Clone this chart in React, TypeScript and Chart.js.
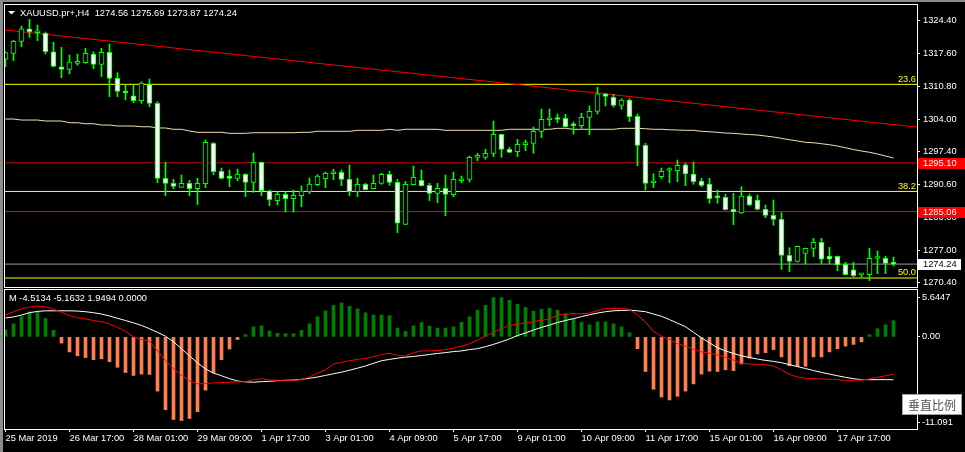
import React, { useEffect, useRef } from 'react';
import { Chart, registerables } from 'chart.js';

Chart.register(...registerables);

// ---------------- data ----------------
const symbolName = 'XAUUSD.pr+';
const timeframe = 'H4';

const opens = [1316.45,1317.68,1320.15,1322.75,1321.93,1321.80,1318.01,1314.92,1314.38,1315.62,
1315.74,1317.54,1315.41,1317.89,1312.53,1309.91,1308.94,1307.91,1311.35,1307.38,
1291.92,1290.89,1290.06,1290.89,1289.78,1290.81,1299.13,1293.36,1292.39,1291.92,
1292.74,1291.09,1295.22,1289.36,1287.30,1288.62,1287.71,1288.33,1289.16,1290.60,
1291.83,1292.87,1293.15,1291.71,1289.16,1290.68,1289.78,1290.89,1292.74,1291.09,
1282.44,1290.60,1291.51,1290.47,1288.83,1289.86,1288.54,1291.42,1291.71,1296.25,
1296.25,1297.07,1300.99,1297.90,1297.40,1298.85,1299.13,1301.61,1303.99,1304.08,
1304.29,1302.80,1302.76,1304.49,1305.73,1309.35,1308.61,1306.96,1308.06,1304.70,
1298.72,1291.01,1292.25,1293.53,1293.49,1294.72,1292.80,1291.36,1290.74,1287.96,
1288.00,1285.53,1284.77,1288.27,1287.45,1285.53,1284.29,1283.47,1276.05,1274.81,
1276.46,1277.49,1278.73,1275.90,1275.84,1274.19,1273.08,1272.01,1272.05,1275.39,
1275.43,1274.56];

const highs = [1318.01,1320.32,1323.31,1324.69,1323.51,1322.07,1319.95,1318.92,1317.33,1317.54,
1318.71,1318.01,1318.71,1319.60,1313.68,1311.15,1311.15,1311.83,1312.39,1307.71,
1295.22,1291.71,1292.60,1291.51,1291.92,1299.81,1299.30,1294.04,1293.63,1293.84,
1292.91,1297.13,1295.28,1289.51,1289.16,1289.16,1289.51,1290.33,1291.98,1292.66,
1293.22,1293.77,1293.63,1294.66,1291.92,1290.89,1292.60,1292.95,1293.36,1291.71,
1291.30,1294.45,1293.63,1290.89,1290.89,1292.60,1293.22,1292.39,1296.51,1297.07,
1297.90,1303.73,1301.05,1298.31,1299.96,1299.81,1302.49,1306.20,1306.20,1305.17,
1305.11,1303.52,1305.32,1306.82,1310.67,1309.44,1309.23,1308.32,1308.32,1305.17,
1299.13,1292.87,1294.04,1294.10,1295.69,1295.01,1295.28,1291.92,1291.92,1289.51,
1288.62,1288.83,1290.19,1288.68,1288.48,1286.42,1287.45,1284.83,1277.61,1277.96,
1277.55,1279.55,1279.55,1277.70,1275.90,1274.61,1274.61,1272.34,1277.49,1276.94,
1275.84,1275.69];

const lows = [1314.92,1316.16,1319.04,1320.98,1320.28,1317.54,1314.86,1312.65,1313.42,1315.21,
1315.62,1314.51,1312.86,1308.74,1308.74,1308.06,1307.50,1307.38,1306.68,1291.01,
1288.33,1289.78,1290.06,1288.33,1286.48,1289.98,1292.66,1291.77,1290.19,1291.42,
1288.13,1289.03,1288.33,1286.27,1286.48,1284.97,1284.97,1286.07,1288.75,1290.39,
1289.98,1291.63,1290.39,1288.33,1288.13,1289.51,1289.71,1290.68,1290.47,1280.71,
1282.35,1290.54,1290.30,1287.30,1286.89,1284.21,1288.13,1291.01,1291.16,1295.55,
1295.84,1296.37,1296.25,1297.20,1296.37,1297.61,1297.07,1300.29,1302.76,1303.38,
1302.43,1301.05,1302.22,1300.91,1305.17,1306.82,1306.61,1306.14,1303.58,1294.51,
1289.51,1289.98,1291.83,1291.01,1291.22,1290.39,1290.68,1290.19,1286.77,1286.77,
1285.38,1282.36,1284.66,1286.27,1285.38,1283.80,1282.23,1273.16,1272.67,1274.67,
1274.26,1275.76,1274.26,1274.26,1272.88,1271.99,1271.64,1271.64,1270.81,1272.26,
1272.26,1273.87];

const closes = [1317.81,1320.15,1322.75,1322.07,1322.07,1318.01,1315.00,1314.38,1315.89,1315.89,
1317.68,1315.41,1317.89,1312.53,1309.85,1309.50,1307.91,1311.56,1307.38,1291.92,
1290.89,1290.27,1290.89,1289.78,1290.89,1299.34,1293.28,1291.92,1291.92,1292.80,
1291.09,1295.22,1289.36,1287.51,1288.62,1287.71,1288.41,1289.30,1290.74,1292.39,
1292.95,1293.22,1291.71,1289.16,1290.68,1289.57,1290.89,1292.74,1291.09,1282.65,
1290.68,1292.12,1290.39,1288.83,1289.86,1288.62,1291.71,1291.77,1296.25,1296.51,
1297.07,1300.99,1297.90,1297.28,1298.93,1299.13,1301.61,1304.08,1304.08,1304.04,
1302.55,1302.76,1304.49,1305.73,1309.35,1308.82,1306.96,1308.06,1304.61,1298.72,
1290.89,1291.05,1293.36,1293.57,1294.60,1292.80,1291.22,1290.47,1287.71,1287.92,
1285.45,1284.97,1288.27,1286.42,1285.53,1284.29,1283.47,1276.05,1274.81,1277.90,
1277.49,1278.73,1275.23,1275.23,1274.05,1272.05,1271.85,1272.09,1275.43,1275.43,
1274.40,1274.24];

const maValues = [1304.14,1304.14,1303.93,1303.93,1303.93,1303.73,1303.73,1303.73,1303.38,1303.38,
1303.17,1303.17,1302.90,1302.90,1302.70,1302.70,1302.70,1302.55,1302.55,1302.29,
1302.29,1302.02,1302.02,1301.67,1301.40,1301.40,1301.40,1301.40,1301.19,1301.19,
1301.19,1301.32,1301.32,1301.32,1301.32,1301.32,1301.32,1301.40,1301.40,1301.61,
1301.61,1301.61,1301.61,1301.61,1301.81,1301.81,1301.81,1301.81,1302.02,1301.81,
1302.02,1302.02,1302.02,1302.02,1302.02,1301.81,1301.81,1301.81,1301.81,1301.81,
1301.81,1301.81,1301.81,1302.02,1302.02,1302.02,1302.02,1302.02,1302.02,1302.22,
1302.22,1302.02,1302.02,1302.02,1302.02,1302.02,1302.02,1302.22,1302.22,1302.22,
1302.14,1302.02,1302.02,1301.93,1301.87,1301.81,1301.81,1301.61,1301.52,1301.40,
1301.25,1301.19,1301.05,1300.94,1300.84,1300.64,1300.43,1300.16,1299.87,1299.61,
1299.34,1299.25,1299.05,1298.84,1298.57,1298.22,1297.85,1297.55,1297.28,1296.93,
1296.52,1296.10];

const trendX = [-1, 115];
const trendY = [1322.65, 1302.29];
const levelSpanX = [-1, 115];
const fibLevels = [1311.29, 1289.21, 1271.37];
const fibLabels = ['23.6', '38.2', '50.0'];
const redLevels = [1295.10, 1285.06];
const bidPrice = 1274.24;
const priceMin = 1269.52;
const priceMax = 1327.64;
const priceTicks = [1324.40, 1317.60, 1310.80, 1304.00, 1297.40, 1290.60, 1283.80, 1277.00, 1270.40];

const histValues = [0.86,1.57,2.43,3.02,3.02,2.20,0.78,-0.75,-1.81,-2.28,
-2.48,-2.75,-2.64,-2.99,-3.66,-4.29,-4.64,-4.48,-4.52,-6.53,
-8.77,-9.95,-10.07,-9.83,-9.01,-6.41,-4.33,-2.75,-1.46,-0.32,
0.27,1.21,1.33,0.71,0.43,0.39,0.39,0.78,1.57,2.43,
3.14,3.81,4.08,3.69,3.37,2.90,2.63,2.63,2.55,1.06,
0.66,1.33,1.73,1.30,1.06,1.06,1.21,1.77,2.43,3.22,
3.81,4.72,4.72,4.40,3.93,3.54,3.10,3.34,3.46,3.22,
2.75,2.20,1.77,1.45,1.80,1.80,1.57,1.21,0.51,-1.42,
-4.17,-6.30,-7.24,-7.59,-7.16,-6.53,-5.66,-4.48,-4.13,-4.17,
-3.97,-4.06,-3.27,-2.56,-2.05,-1.89,-1.53,-2.41,-3.47,-3.58,
-3.54,-2.41,-2.41,-1.81,-1.42,-1.11,-0.91,-0.59,0.27,0.98,
1.45,1.9494];

const macdRed = [2.63,3.03,3.38,3.58,3.70,3.62,3.34,2.95,2.56,2.32,
2.16,1.97,1.81,1.57,1.14,0.67,0.00,-0.31,-0.51,-1.69,
-2.87,-3.85,-4.64,-5.31,-5.66,-5.62,-5.54,-5.50,-5.46,-5.42,
-5.39,-5.15,-5.03,-5.19,-5.23,-5.23,-5.23,-5.15,-4.83,-4.36,
-3.97,-3.26,-3.07,-2.87,-2.71,-2.59,-2.40,-2.12,-1.97,-2.24,
-2.28,-1.89,-1.69,-1.69,-1.65,-1.53,-1.34,-1.10,-0.83,-0.39,
0.08,0.55,0.98,1.38,1.53,1.65,1.85,2.00,2.16,2.63,
2.75,2.79,2.79,2.87,3.18,3.42,3.42,3.42,3.30,2.63,
1.77,0.67,0.08,-0.31,-0.83,-1.10,-1.49,-1.81,-1.97,-2.16,
-2.48,-2.79,-3.18,-3.26,-3.30,-3.34,-3.50,-3.97,-4.52,-4.83,
-4.99,-5.03,-5.07,-5.11,-5.15,-5.23,-5.23,-5.19,-5.07,-4.87,
-4.68,-4.5134];

const macdWhite = [2.28,2.40,2.63,2.91,3.07,3.14,3.14,3.14,3.14,3.11,
3.03,2.91,2.75,2.52,2.24,1.97,1.69,1.38,0.98,0.55,
0.08,-0.59,-1.42,-2.28,-3.14,-3.85,-4.36,-4.68,-5.03,-5.31,
-5.42,-5.46,-5.39,-5.35,-5.27,-5.23,-5.19,-5.11,-4.99,-4.83,
-4.64,-4.44,-4.25,-4.01,-3.77,-3.50,-3.18,-2.87,-2.71,-2.56,
-2.44,-2.36,-2.24,-2.12,-2.00,-1.89,-1.77,-1.69,-1.53,-1.42,
-1.18,-0.90,-0.59,-0.24,0.16,0.47,0.83,1.14,1.42,1.73,
1.97,2.20,2.44,2.67,2.87,3.03,3.14,3.18,3.22,3.14,
3.03,2.75,2.48,2.08,1.65,1.22,0.55,-0.12,-0.71,-1.30,
-1.69,-2.00,-2.28,-2.48,-2.67,-2.83,-2.95,-3.11,-3.34,-3.58,
-3.81,-4.05,-4.28,-4.48,-4.68,-4.87,-5.03,-5.15,-5.15,-5.15,
-5.15,-5.1632];

const macdMax = 5.6447;
const macdMin = -11.091;
const macdSignalLevel = 0.0;

const xTickIndex = [0, 8, 16, 24, 32, 40, 48, 56, 64, 72, 80, 88, 96, 104];
const xTickLabels = ['25 Mar 2019', '26 Mar 17:00', '28 Mar 01:00', '29 Mar 09:00', '1 Apr 17:00',
  '3 Apr 01:00', '4 Apr 09:00', '5 Apr 17:00', '9 Apr 01:00', '10 Apr 09:00', '11 Apr 17:00',
  '15 Apr 01:00', '16 Apr 09:00', '17 Apr 17:00'];

const scaleButtonText = '垂直比例';

// ---------------- styling ----------------
const FONT_FAMILY = '"Liberation Sans", Arial, sans-serif';
const FONT_SIZE = 9.3;
const TEXT_FONT = `${FONT_SIZE}px ${FONT_FAMILY}`;
const X_MIN = -0.0625;
const X_MAX = 113.9375;
const AXIS_WIDTH = 48;

const barIndex = opens.map((_, i) => i);
const last = opens.length - 1;

const xScaleHidden = {
  type: 'linear', min: X_MIN, max: X_MAX, offset: false, display: false,
};

function fixWidth(s: any) {
  s.width = AXIS_WIDTH;
  s.paddingTop = 0;
  s.paddingBottom = 0;
  s.paddingLeft = 0;
  s.paddingRight = 0;
}

const mainDecor = {
  id: 'mainDecor',
  beforeDraw(chart: any) {
    const { ctx, width, height } = chart;
    ctx.save();
    ctx.fillStyle = '#000000';
    ctx.fillRect(0, 0, width, height);
    ctx.fillStyle = '#8c8c8c';
    ctx.fillRect(0, 0, width, 2);
    ctx.fillRect(0, 0, 3, height);
    ctx.restore();
  },
  afterDatasetsDraw(chart: any) {
    const { ctx, chartArea: a, scales } = chart;
    const y = scales.y;
    ctx.save();
    ctx.strokeStyle = '#ffffff';
    ctx.lineWidth = 1;
    ctx.strokeRect(a.left - 0.5, a.top - 0.5, a.right - a.left + 1, a.bottom - a.top + 1);
    ctx.font = TEXT_FONT;
    ctx.fillStyle = '#ffff00';
    ctx.textAlign = 'right';
    ctx.textBaseline = 'bottom';
    fibLevels.forEach((lv, i) => {
      ctx.fillText(fibLabels[i], a.right - 1, y.getPixelForValue(lv) - 0.5);
    });
    // header
    ctx.fillStyle = '#ffffff';
    ctx.beginPath();
    ctx.moveTo(8, 11);
    ctx.lineTo(15, 11);
    ctx.lineTo(11.5, 14.5);
    ctx.closePath();
    ctx.fill();
    ctx.textAlign = 'left';
    ctx.textBaseline = 'middle';
    const header = `${symbolName},${timeframe}  ${opens[last].toFixed(2)} ${highs[last].toFixed(2)} ${lows[last].toFixed(2)} ${closes[last].toFixed(2)}`;
    ctx.fillText(header, 20, 13);
    ctx.restore();
  },
  afterDraw(chart: any) {
    const { ctx, chartArea: a, scales } = chart;
    const y = scales.y;
    ctx.save();
    ctx.font = TEXT_FONT;
    ctx.textAlign = 'left';
    ctx.textBaseline = 'middle';
    redLevels.forEach((v) => {
      const py = Math.round(y.getPixelForValue(v));
      ctx.fillStyle = '#ff0000';
      ctx.fillRect(a.right + 1, py - 5, 47, 11);
      ctx.fillStyle = '#ffffff';
      ctx.fillText(v.toFixed(2), a.right + 6, py + 0.5);
    });
    const pb = Math.round(y.getPixelForValue(bidPrice));
    ctx.fillStyle = '#ffffff';
    ctx.fillRect(a.right + 1, pb - 5, 43, 11);
    ctx.fillStyle = '#000000';
    ctx.fillText(bidPrice.toFixed(2), a.right + 6, pb + 0.5);
    ctx.restore();
  },
};

const macdDecor = {
  id: 'macdDecor',
  beforeDraw(chart: any) {
    const { ctx, width, height } = chart;
    ctx.save();
    ctx.fillStyle = '#000000';
    ctx.fillRect(0, 0, width, height);
    ctx.fillStyle = '#8c8c8c';
    ctx.fillRect(0, 0, 3, height);
    ctx.restore();
  },
  afterDatasetsDraw(chart: any) {
    const { ctx, chartArea: a } = chart;
    ctx.save();
    ctx.strokeStyle = '#ffffff';
    ctx.lineWidth = 1;
    ctx.strokeRect(a.left - 0.5, a.top - 0.5, a.right - a.left + 1, a.bottom - a.top + 1);
    ctx.font = TEXT_FONT;
    ctx.fillStyle = '#ffffff';
    ctx.textAlign = 'left';
    ctx.textBaseline = 'middle';
    const hdr = `M ${macdRed[last].toFixed(4)} ${macdWhite[last].toFixed(4)} ${histValues[last].toFixed(4)} ${macdSignalLevel.toFixed(4)}`;
    ctx.fillText(hdr, 9, 10);
    // extreme scale labels (placed inside the panel like the terminal does)
    const yTop = a.top + 7;
    const yBot = a.bottom - 7;
    ctx.fillText(String(macdMax), a.right + 5, yTop);
    ctx.fillText(String(macdMin), a.right + 5, yBot);
    ctx.fillRect(a.right, Math.round(yTop), 3, 1);
    ctx.fillRect(a.right, Math.round(yBot), 3, 1);
    ctx.restore();
  },
  afterDraw(chart: any) {
    const { ctx, chartArea: a } = chart;
    ctx.save();
    const bx = a.right - 14.5;
    const by = a.bottom - 34.5;
    ctx.fillStyle = '#ffffff';
    ctx.fillRect(bx, by, 59, 20);
    ctx.strokeStyle = '#a0a0a0';
    ctx.lineWidth = 1;
    ctx.strokeRect(bx, by, 59, 20);
    ctx.fillStyle = '#505050';
    ctx.font = '12px "Noto Sans CJK SC", sans-serif';
    ctx.textAlign = 'center';
    ctx.textBaseline = 'middle';
    ctx.fillText(scaleButtonText, bx + 29.5, by + 10.5);
    ctx.restore();
  },
};

function levelDataset(value: number, color: string) {
  return {
    type: 'line',
    data: levelSpanX.map((x) => ({ x, y: value })),
    borderColor: color,
    borderWidth: 1,
    pointRadius: 0,
    order: 5,
  };
}

function mainConfig(): any {
  return {
    type: 'line',
    data: {
      datasets: [
        {
          type: 'bar',
          data: barIndex.map((i) => ({ x: i, y: [opens[i], closes[i]] })),
          backgroundColor: barIndex.map((i) => (closes[i] < opens[i] ? '#ffffff' : '#000000')),
          borderColor: '#00ff00',
          borderWidth: 1,
          borderSkipped: false,
          barThickness: 5,
          minBarLength: 2,
          grouped: false,
          order: 0,
        },
        {
          type: 'bar',
          data: barIndex.map((i) => ({ x: i, y: [lows[i], highs[i]] })),
          backgroundColor: '#00ff00',
          borderWidth: 0,
          barThickness: 1,
          grouped: false,
          order: 1,
        },
        {
          type: 'line',
          data: barIndex.map((i) => ({ x: i, y: maValues[i] })),
          borderColor: '#f5deb3',
          borderWidth: 1,
          pointRadius: 0,
          order: 3,
        },
        {
          type: 'line',
          data: trendX.map((x, i) => ({ x, y: trendY[i] })),
          borderColor: '#ff0000',
          borderWidth: 1,
          pointRadius: 0,
          order: 4,
        },
        ...fibLevels.map((v) => levelDataset(v, '#ffff00')),
        levelDataset(redLevels[0], '#dd0000'),
        levelDataset(redLevels[1], '#ff0000'),
        levelDataset(bidPrice, '#9a9a9a'),
      ],
    },
    options: {
      responsive: false,
      animation: false,
      events: [],
      layout: { padding: { left: 5, top: 5, right: 0, bottom: 2 } },
      plugins: { legend: { display: false }, tooltip: { enabled: false } },
      scales: {
        x: xScaleHidden,
        y: {
          type: 'linear',
          position: 'right',
          min: priceMin,
          max: priceMax,
          bounds: 'data',
          afterFit: fixWidth,
          afterBuildTicks: (s: any) => { s.ticks = priceTicks.map((v) => ({ value: v })); },
          border: { display: false },
          grid: { display: true, drawOnChartArea: false, drawTicks: true, tickLength: 3, color: '#ffffff' },
          ticks: {
            autoSkip: false,
            color: '#ffffff',
            padding: 3,
            font: { family: FONT_FAMILY, size: FONT_SIZE },
            callback: (v: any) => Number(v).toFixed(2),
          },
        },
      },
    },
    plugins: [mainDecor],
  };
}

function macdConfig(): any {
  return {
    type: 'line',
    data: {
      datasets: [
        {
          type: 'bar',
          data: barIndex.map((i) => ({ x: i, y: histValues[i] })),
          backgroundColor: barIndex.map((i) => (histValues[i] >= 0 ? '#008000' : '#ff7f50')),
          borderWidth: 0,
          barThickness: 3,
          grouped: false,
          order: 2,
        },
        {
          type: 'line',
          data: barIndex.map((i) => ({ x: i, y: macdWhite[i] })),
          borderColor: '#ffffff',
          borderWidth: 1,
          pointRadius: 0,
          order: 1,
        },
        {
          type: 'line',
          data: barIndex.map((i) => ({ x: i, y: macdRed[i] })),
          borderColor: '#ff0000',
          borderWidth: 1,
          pointRadius: 0,
          order: 0,
        },
      ],
    },
    options: {
      responsive: false,
      animation: false,
      events: [],
      layout: { padding: { left: 5, top: 2, right: 0, bottom: 0 } },
      plugins: { legend: { display: false }, tooltip: { enabled: false } },
      scales: {
        x: {
          type: 'linear',
          min: X_MIN,
          max: X_MAX,
          offset: false,
          bounds: 'data',
          afterFit: (s: any) => {
            s.height = 23;
            s.paddingLeft = 0;
            s.paddingRight = 0;
            s.paddingTop = 0;
            s.paddingBottom = 0;
          },
          afterBuildTicks: (s: any) => { s.ticks = xTickIndex.map((v) => ({ value: v })); },
          border: { display: false },
          grid: { display: true, drawOnChartArea: false, drawTicks: true, tickLength: 3, color: '#ffffff', offset: false },
          ticks: {
            autoSkip: false,
            maxRotation: 0,
            minRotation: 0,
            align: 'start',
            color: '#ffffff',
            padding: 1,
            font: { family: FONT_FAMILY, size: FONT_SIZE },
            callback: (_v: any, idx: number) => xTickLabels[idx],
          },
        },
        y: {
          type: 'linear',
          position: 'right',
          min: macdMin,
          max: macdMax,
          bounds: 'data',
          afterFit: fixWidth,
          afterBuildTicks: (s: any) => { s.ticks = [{ value: macdSignalLevel }]; },
          border: { display: false },
          grid: { display: true, drawOnChartArea: false, drawTicks: true, tickLength: 3, color: '#ffffff' },
          ticks: {
            autoSkip: false,
            color: '#ffffff',
            padding: 2,
            font: { family: FONT_FAMILY, size: FONT_SIZE },
            callback: (v: any) => Number(v).toFixed(2),
          },
        },
      },
    },
    plugins: [macdDecor],
  };
}

export default function App() {
  const mainRef = useRef<HTMLCanvasElement>(null);
  const macdRef = useRef<HTMLCanvasElement>(null);

  useEffect(() => {
    const main = new Chart(mainRef.current as HTMLCanvasElement, mainConfig());
    const macd = new Chart(macdRef.current as HTMLCanvasElement, macdConfig());
    return () => {
      main.destroy();
      macd.destroy();
    };
  }, []);

  return (
    <div style={{ position: 'fixed', left: 0, top: 0, width: 965, height: 452, background: '#000', overflow: 'hidden' }}>
      <div style={{ position: 'absolute', left: 0, top: 0, width: 965, height: 289 }}>
        <canvas ref={mainRef} width={965} height={289} style={{ display: 'block' }} />
      </div>
      <div style={{ position: 'absolute', left: 0, top: 288, width: 965, height: 164 }}>
        <canvas ref={macdRef} width={965} height={164} style={{ display: 'block' }} />
      </div>
    </div>
  );
}
